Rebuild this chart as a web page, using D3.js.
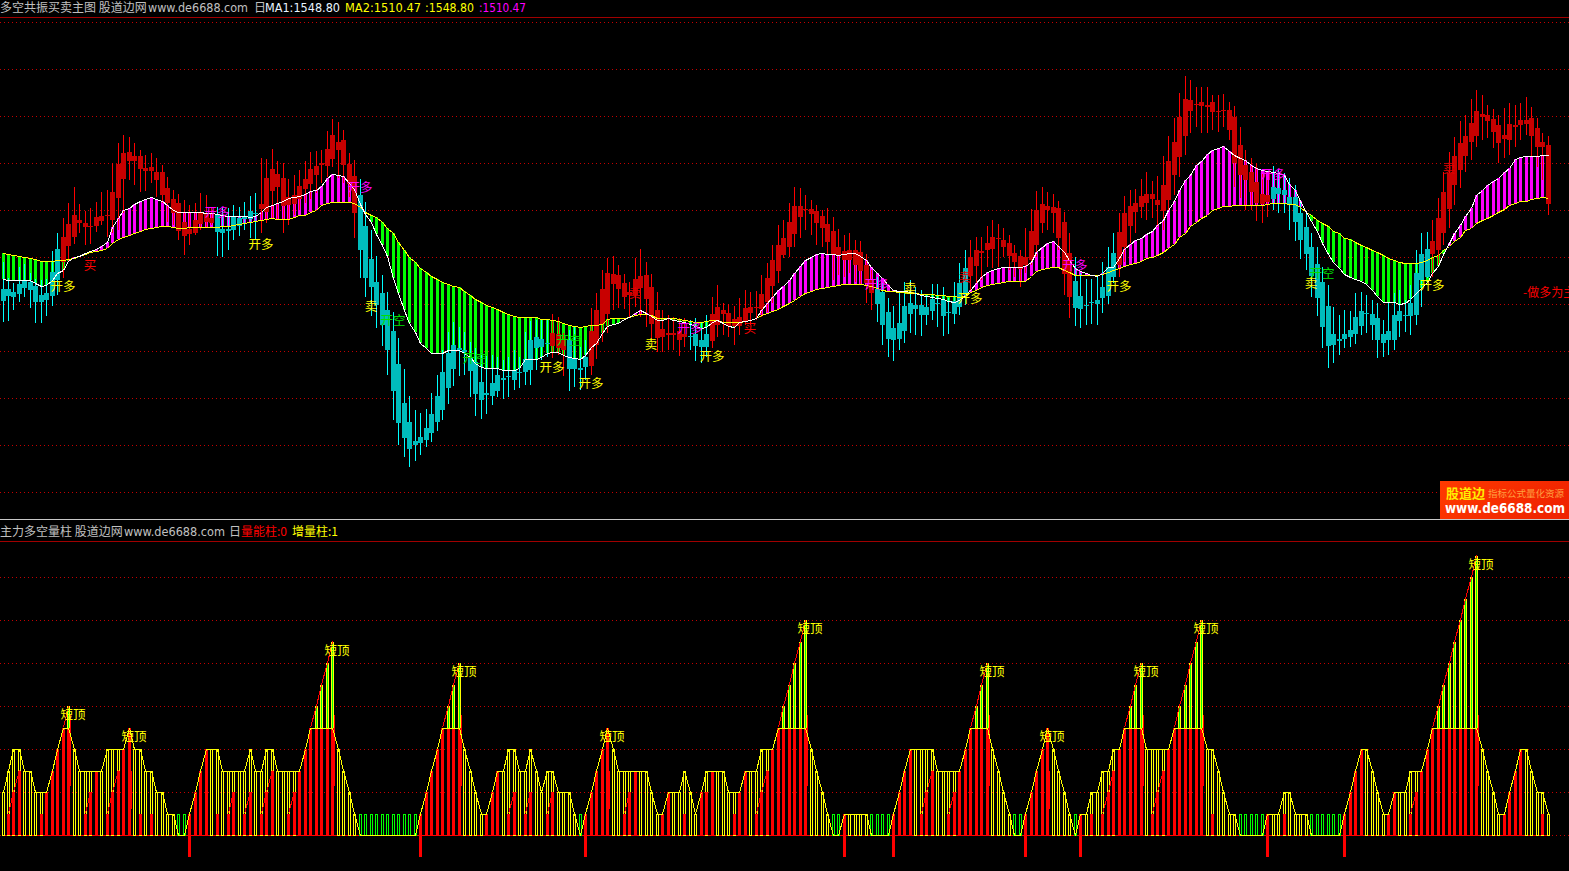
<!DOCTYPE html>
<html><head><meta charset="utf-8"><style>
html,body{margin:0;padding:0;background:#000;overflow:hidden}
svg{display:block}
text{font-family:"Noto Sans CJK SC","DejaVu Sans",sans-serif}
</style>
<script src="https://cdn.jsdelivr.net/npm/d3@7/dist/d3.min.js"></script></head><body><svg id="c" width="1569" height="871"></svg>
<script>
const high=[438,422,417,433,436,427,421,420,421,449,467,482,497,513,496,489,492,498,508,510,537,557,565,563,557,550,545,547,542,535,523,510,506,500,495,497,507,505,493,493,493,492,495,493,498,504,507,542,541,551,539,537,521,525,530,539,548,549,550,569,581,578,570,547,540,521,498,470,444,425,408,388,362,331,304,290,287,291,307,325,350,368,378,373,368,358,352,347,344,345,343,340,343,350,343,368,379,380,380,380,386,383,367,370,373,353,360,392,407,430,442,444,435,426,418,442,451,438,426,408,390,385,383,382,382,380,382,377,385,403,415,397,396,394,402,410,408,409,425,437,455,475,480,497,513,512,505,500,495,490,492,483,471,465,467,460,459,446,430,423,417,402,394,407,418,420,413,410,405,416,416,413,402,418,437,450,460,463,463,474,480,476,472,465,455,450,472,491,509,513,508,506,499,488,467,443,427,421,421,423,438,453,467,487,504,510,511,521,528,519,524,544,564,582,607,624,620,613,613,613,605,605,606,598,594,573,550,542,537,527,520,534,530,527,522,515,500,487,467,453,433,415,393,385,390,389,407,408,405,400,397,380,397,407,410,400,415,450,467,468,480,502,528,548,563,579,585,601,610,605,595,591,585,592,597,595,597,603,593,582,567,564];
const low=[378,379,390,398,403,392,377,377,384,394,405,422,438,456,467,455,456,468,475,463,467,470,487,520,515,508,509,517,503,497,478,475,460,445,455,465,470,472,475,444,443,450,460,464,470,462,460,467,477,482,481,467,475,485,490,497,501,507,517,523,533,522,517,503,462,422,403,384,372,354,325,280,255,243,233,239,245,253,258,269,280,296,314,324,325,303,284,281,286,295,303,301,303,310,312,315,315,330,340,343,342,345,324,309,313,310,320,325,341,358,367,390,392,391,382,393,383,373,360,348,348,350,350,344,353,350,339,337,343,352,363,365,363,355,365,375,375,380,383,388,397,417,442,443,453,462,470,465,455,453,445,420,425,423,427,418,415,397,390,378,355,343,339,350,357,367,365,364,375,380,373,364,366,376,385,395,410,417,420,433,432,433,443,430,423,413,427,435,443,467,470,467,450,405,382,374,372,375,376,375,387,396,417,423,438,457,467,482,480,482,473,470,490,505,523,545,567,573,567,567,570,568,573,560,513,502,490,490,479,477,483,490,487,487,470,459,441,430,403,384,352,332,337,345,352,353,356,365,367,360,342,343,345,350,363,368,365,375,393,422,423,433,455,472,495,512,528,540,553,560,562,552,537,542,545,553,560,565,543,533,520,485];
const bodyTop=[411,411,408,416,419,418,414,405,407,428,451,463,476,485,480,477,474,483,484,485,508,536,547,548,544,544,532,533,528,528,512,501,497,478,471,480,488,486,482,485,471,471,483,482,484,489,487,496,522,531,526,522,503,505,514,521,531,534,537,551,565,558,560,536,524,505,474,441,418,407,390,369,336,297,278,259,263,272,286,304,328,347,355,352,350,342,338,318,307,317,325,322,324,330,328,341,360,363,361,357,367,366,360,360,341,332,343,369,390,411,427,426,425,417,408,421,424,425,413,390,371,367,367,369,366,364,366,360,366,386,393,390,387,381,383,392,393,393,406,422,440,455,462,478,494,494,491,491,489,484,476,469,453,449,450,450,448,435,420,411,408,388,372,377,394,397,395,395,393,401,397,400,388,399,417,432,443,450,449,457,463,462,460,457,447,444,443,469,490,496,494,493,492,478,447,419,404,395,398,400,413,433,447,468,487,494,497,504,506,506,500,515,539,558,583,601,600,596,598,595,598,589,590,590,583,555,535,528,518,506,505,513,512,510,503,503,487,473,453,436,418,394,366,361,366,370,383,389,387,386,382,366,369,385,389,385,397,427,446,451,459,482,508,527,544,557,564,577,589,586,585,581,575,565,576,575,580,580,582,572,558,555];
const bodyBottom=[399,404,403,406,412,410,398,398,400,404,420,438,454,463,477,473,473,474,479,484,480,502,521,539,539,531,529,529,520,505,497,487,469,464,466,467,476,478,477,468,467,469,470,474,481,481,486,491,488,509,513,494,495,496,501,511,516,525,535,534,541,550,535,516,487,450,422,413,395,375,350,309,277,262,251,255,257,260,267,278,290,312,331,350,348,329,306,300,305,304,309,320,323,320,327,328,330,352,353,356,354,352,350,331,331,330,333,334,355,376,386,416,411,403,405,405,412,401,376,362,363,365,365,360,363,363,354,353,353,359,375,386,374,374,374,379,387,392,391,398,414,429,445,453,466,483,490,486,477,472,458,446,445,440,440,435,429,417,407,396,375,361,360,361,369,386,391,385,385,389,396,384,387,386,393,405,424,434,447,450,451,461,453,444,438,431,435,440,455,477,490,487,462,426,403,392,391,394,397,396,402,404,423,435,453,474,488,493,497,501,495,489,500,525,543,564,589,595,594,593,588,588,589,570,537,525,520,508,497,496,498,501,506,505,495,478,460,446,424,402,373,354,355,359,361,363,366,374,386,375,360,357,360,360,379,384,384,385,420,423,446,450,467,491,515,530,544,558,564,583,579,568,557,561,560,573,575,576,564,553,553,496];
const ma1=[421,420,420,420,420,420,417,414,415,420,427,430,439,443,444,447,449,451,454,458,473,482,490,492,496,499,501,503,501,499,495,490,488,488,488,488,488,487,487,486,485,484,484,484,484,483,484,488,493,495,497,499,502,503,504,506,509,510,514,522,526,525,524,517,511,496,486,478,466,455,444,422,407,390,377,368,357,352,347,347,347,350,350,350,347,343,337,333,332,332,332,330,330,330,332,341,341,341,343,347,348,348,345,343,342,341,345,353,357,367,374,376,377,381,383,387,390,387,384,380,380,382,380,379,378,376,374,372,373,378,380,377,374,373,378,379,380,382,390,397,403,410,414,420,427,434,440,443,446,447,446,446,445,446,447,447,444,440,433,427,422,415,410,409,409,408,407,405,404,403,402,401,399,398,400,405,410,417,423,428,430,432,433,433,433,433,434,438,448,453,457,459,454,448,440,432,429,427,425,424,427,433,433,442,451,456,460,462,466,469,475,480,490,499,510,520,525,535,539,546,550,552,554,549,545,542,540,535,532,530,529,528,527,525,516,510,499,488,479,469,457,446,438,432,426,423,421,419,416,410,404,398,398,398,396,397,401,407,412,418,427,434,446,457,467,475,484,492,505,510,515,519,522,528,532,541,543,544,544,544,545,545];
const ma2=[447,446,445,444,443,442,441,439,439,439,440,440,441,442,444,446,448,449,450,452,457,461,463,465,467,469,471,472,473,474,474,473,472,472,473,473,473,473,473,473,474,474,475,476,477,478,479,480,481,482,481,481,481,483,485,485,488,490,495,497,498,498,498,498,497,493,488,485,483,478,472,467,458,450,443,438,432,428,424,421,418,416,414,413,409,405,401,398,395,393,391,388,386,384,383,383,383,383,381,381,380,379,377,375,374,373,374,375,375,376,381,382,382,382,383,385,386,386,385,382,382,382,382,381,380,379,378,378,379,380,380,378,378,378,378,379,380,382,385,387,389,391,394,397,400,404,407,409,411,412,413,414,415,416,416,416,416,415,414,412,410,409,409,408,408,407,407,406,406,406,405,405,404,404,403,404,408,410,413,415,416,417,418,419,419,419,419,424,429,431,432,433,433,430,428,425,425,425,425,425,426,428,430,432,434,436,437,439,442,443,445,448,452,456,463,467,474,478,482,485,490,492,494,494,495,495,495,495,495,495,496,497,497,497,496,496,493,488,485,480,477,474,469,467,462,461,458,455,453,450,448,445,442,440,438,437,437,437,438,440,443,445,450,454,459,463,470,472,477,480,482,485,488,491,495,497,499,499,501,502,503,502];
const fallingRuns=[[0,10],[39,46],[65,99],[103,106],[125,128],[159,175],[195,202],[231,259]];
const volume=[2,3,4,4,3,3,2,2,2,3,4,5,6,4,3,3,3,3,3,4,4,4,4,5,4,4,3,3,2,2,1,1,0,0,1,2,3,4,4,4,3,3,3,3,3,4,3,3,4,4,3,3,3,3,3,4,5,6,7,8,9,4,3,2,1,0,0,0,0,0,0,0,0,0,0,0,1,2,3,4,5,6,7,8,4,3,2,1,1,2,3,3,4,4,3,3,4,3,2,3,3,2,2,2,1,0,1,2,3,4,5,4,3,3,3,3,3,3,2,1,1,2,2,2,3,2,1,2,3,3,3,3,2,2,2,3,3,3,4,4,4,5,6,7,8,9,10,4,3,2,1,0,0,1,1,1,1,1,0,0,0,0,1,2,3,4,4,4,4,4,3,3,3,3,3,4,5,6,7,8,4,3,2,1,0,0,1,2,3,4,5,4,3,2,1,0,1,1,2,2,3,3,4,4,5,6,7,8,4,4,4,4,4,5,6,7,8,9,10,4,4,3,2,1,1,0,0,0,0,0,1,1,1,2,2,1,1,1,0,0,0,0,0,0,1,2,3,4,4,3,2,1,1,2,2,2,3,3,3,4,5,6,7,8,9,10,11,12,13,4,3,2,1,1,2,3,4,4,3,2,2,1];
const energy=[0,1,2,3,0,0,0,1,2,3,4,5,5,0,0,1,2,3,0,1,2,3,4,5,0,1,0,1,0,0,0,0,0,0,1,2,3,4,0,1,0,1,2,0,1,2,0,1,2,3,0,0,1,2,3,4,5,5,5,5,5,0,0,0,0,0,0,0,0,0,0,0,0,0,0,0,1,2,3,4,5,5,5,5,0,0,0,0,1,2,3,0,1,2,0,1,2,0,0,1,2,0,0,0,0,0,1,2,3,4,5,0,0,1,2,3,0,0,0,0,1,2,0,0,1,0,0,2,2,3,0,0,0,1,2,3,0,1,2,3,4,5,5,5,5,5,5,0,0,0,0,0,0,1,0,0,0,0,0,0,0,0,1,2,3,4,0,1,2,3,0,0,1,2,3,4,5,5,5,5,0,0,0,0,0,0,1,2,3,4,5,0,0,0,0,0,1,0,1,0,1,2,3,4,5,5,5,5,0,1,2,3,4,5,5,5,5,5,5,0,1,0,0,0,0,0,0,0,0,0,1,0,0,1,0,0,0,0,0,0,0,0,0,0,1,2,3,4,0,0,0,0,1,2,0,0,1,2,3,4,5,5,5,5,5,5,5,5,5,0,0,0,0,1,2,3,4,0,0,0,1,0];
const downSpikes=[34,76,106,153,162,186,196,230,244];
const shortTops=[12,23,60,83,110,146,179,190,207,218,268];
const priceGrid=[678,631,584,537,490,443,396,349,302,255,208];
const volGrid=[0,2,4,6,8,10,12];
const openLong=[[11,414],[47,456],[100,333],[107,317],[129,344],[176,402],[203,414],[260,415]];
const holdLong=[[39,488],[65,513],[125,372],[159,416],[195,435],[231,526]];
const openShort=[[71,380],[86,342],[103,360],[240,427]];
const sellYellow=[[67,394],[118,356],[165,412],[238,417]];
const buyRed=[[16,435],[136,372]];
const sellRed=[[115,407],[175,423],[263,532]];
const advice=[[277,408]];

const n=high.length,svg=d3.select('#c');
const x=d3.scalePoint(d3.range(n),[2.5,1547.5]);
const X=i=>Math.round(x(i));
const yP=d3.scaleLinear([700,180],[0,520]);
const yV=d3.scaleLinear([0,13],[835,555.5]);
const isFalling=i=>fallingRuns.some(r=>i>=r[0]&&i<=r[1]);
const idx=d3.range(n);
const crisp=g=>g.attr('shape-rendering','crispEdges');

svg.append('rect').attr('width',1569).attr('height',871).attr('fill','#000');
const grid=svg.append('g').call(crisp).attr('stroke','#c40000').attr('stroke-dasharray','1 3');
grid.selectAll('.p').data(priceGrid).join('line').attr('x1',0).attr('x2',1569).attr('y1',d=>Math.round(yP(d))+.5).attr('y2',d=>Math.round(yP(d))+.5);
grid.selectAll('.v').data(volGrid).join('line').attr('x1',0).attr('x2',1569).attr('y1',d=>Math.round(yV(d))+.5).attr('y2',d=>Math.round(yV(d))+.5);
const rule=(y,c)=>svg.append('line').call(crisp).attr('x1',0).attr('x2',1569).attr('y1',y+.5).attr('y2',y+.5).attr('stroke',c);
rule(17,'#a00000');rule(541,'#a00000');rule(519,'#c8c8c8');

svg.append('g').call(crisp).selectAll('rect').data(idx).join('rect')
 .attr('x',i=>X(i)-1).attr('width',3)
 .attr('y',i=>yP(Math.max(ma1[i],ma2[i]))).attr('height',i=>Math.abs(yP(ma1[i])-yP(ma2[i])))
 .attr('fill',i=>ma1[i]>ma2[i]?'#ff00ff':'#00ff00');
const cg=svg.append('g').call(crisp);
cg.selectAll('.w').data(idx).join('rect').attr('x',X).attr('width',1)
 .attr('y',i=>yP(high[i])).attr('height',i=>yP(low[i])-yP(high[i]))
 .attr('fill',i=>isFalling(i)?'#00ffff':'#ff0000');
cg.selectAll('.b').data(idx).join('rect').attr('class','b').attr('x',i=>X(i)-2).attr('width',5)
 .attr('y',i=>yP(bodyTop[i])).attr('height',i=>Math.max(1,yP(bodyBottom[i])-yP(bodyTop[i])))
 .attr('fill',i=>isFalling(i)?'#00bcbc':'#c80000');
const lineP=a=>d3.line().x((d,i)=>X(i)+.5).y(d=>yP(d)+.5)(a);
svg.append('path').call(crisp).attr('d',lineP(ma2)).attr('fill','none').attr('stroke','#ffff00').attr('stroke-width',1);
svg.append('path').call(crisp).attr('d',lineP(ma1)).attr('fill','none').attr('stroke','#ffffff').attr('stroke-width',1);

const sig=(arr,t,c)=>svg.append('g').selectAll('text').data(arr).join('text')
 .attr('x',d=>X(d[0])).attr('y',d=>yP(d[1])+5).attr('text-anchor','middle')
 .attr('font-size',12.5).attr('fill',c).text(t);
sig(openLong,'开多','#ffff00');sig(holdLong,'开多','#ff00ff');sig(openShort,'开空','#00e000');
sig(sellYellow,'卖','#ffff00');sig(buyRed,'买','#ff0000');sig(sellRed,'卖','#e00000');
svg.append('g').selectAll('text').data(advice).join('text').attr('x',d=>X(d[0])-3).attr('y',d=>yP(d[1])+5)
 .attr('font-size',12).attr('fill','#ff0000').text('-做多为主');

svg.append('line').call(crisp).attr('x1',X(0)).attr('x2',X(n-1)).attr('y1',yV(0)+.5).attr('y2',yV(0)+.5).attr('stroke','#ff0000');
const vg=svg.append('g').call(crisp);
const outlineBase=i=>energy[i]>=5?5:0;
const hasOutline=i=>volume[i]===0||volume[i]>energy[i];
vg.selectAll('.o').data(idx.filter(hasOutline)).join('rect').attr('class','o')
 .attr('x',i=>X(i)-.5).attr('width',2)
 .attr('y',i=>Math.round(yV(volume[i]||1))+.5)
 .attr('height',i=>Math.round(yV(outlineBase(i)))-Math.round(yV(volume[i]||1)))
 .attr('fill',i=>energy[i]>=5?'#00ff00':'none')
 .attr('stroke',i=>volume[i]===0?'#00ff00':'#ffff00');
vg.selectAll('.r').data(idx.filter(i=>energy[i]>0)).join('rect').attr('class','r')
 .attr('x',i=>X(i)-1).attr('width',3)
 .attr('y',i=>Math.round(yV(energy[i]))).attr('height',i=>Math.round(yV(0))-Math.round(yV(energy[i])))
 .attr('fill','#ff0000');
vg.selectAll('.s').data(downSpikes).join('rect').attr('class','s')
 .attr('x',i=>X(i)-1).attr('width',3)
 .attr('y',yV(0)).attr('height',yV(-1)-yV(0)).attr('fill','#ff0000');
const tails=idx.filter(i=>energy[i]===5&&energy[i+1]===0);
vg.selectAll('.t').data(tails).join('line').attr('class','t').attr('x1',i=>X(i)+2.5).attr('x2',i=>X(i)+2.5)
 .attr('y1',i=>yV(volume[i]>5?5.6:3)).attr('y2',i=>yV(volume[i]>5?2.3:1.2)).attr('stroke','#ff0000');
svg.append('path').call(crisp).attr('fill','none').attr('stroke','#ffff00').attr('stroke-width',1)
 .attr('d',d3.line().x((d,i)=>X(i)+.5).y(d=>yV(Math.min(d,5))+.5)(volume));
const rg=svg.append('g').call(crisp);
rg.selectAll('.rise').data(idx.filter(i=>i<n-1&&volume[i+1]>volume[i]&&volume[i]>=5)).join('line')
 .attr('x1',i=>X(i)+.5).attr('x2',i=>X(i+1)+.5).attr('y1',i=>yV(volume[i])).attr('y2',i=>yV(volume[i+1])).attr('stroke','#ff0000');
rg.selectAll('.rise2').data(idx.filter(i=>i<n-1&&energy[i+1]>energy[i]&&energy[i]>0&&volume[i+1]>energy[i+1])).join('line')
 .attr('x1',i=>X(i)+.5).attr('x2',i=>X(i+1)+.5).attr('y1',i=>yV(energy[i])).attr('y2',i=>yV(energy[i+1])).attr('stroke','#ff0000');
svg.append('g').selectAll('text').data(shortTops).join('text')
 .attr('x',i=>X(i)+5).attr('y',i=>yV(volume[i])+13).attr('text-anchor','middle')
 .attr('font-size',12.5).attr('fill','#ffff00').text('短顶');

const hdr=(x0,y,t,c,w)=>{const s=svg.append('text').attr('x',x0).attr('y',y).attr('fill',c).attr('font-size',12).text(t);
 if(w) s.style('font-family','"DejaVu Sans"').attr('textLength',w).attr('lengthAdjust','spacingAndGlyphs');return s;};
hdr(0,12,'多空共振买卖主图 股道边网','#c0c0c0');
hdr(148,12,'www.de6688.com','#c0c0c0',100);
hdr(254,12,'日','#c0c0c0');
hdr(265,12,'MA1:1548.80','#e8f4ff',75);
hdr(345,12,'MA2:1510.47','#ffff00',76);
hdr(425,12,':1548.80','#ffff00',49);
hdr(479,12,':1510.47','#ff00ff',47);
hdr(0,536,'主力多空量柱 股道边网','#c0c0c0');
hdr(124,536,'www.de6688.com','#c0c0c0',101);
hdr(229,536,'日','#c0c0c0');
hdr(241,536,'量能柱:0','#ff0000');
hdr(292,536,'增量柱:1','#ffff00');

const defs=svg.append('defs');
const lg=defs.append('linearGradient').attr('id','lg').attr('x1','0').attr('x2','1').attr('y1','0').attr('y2','0.3');
lg.append('stop').attr('offset','0').attr('stop-color','#ff3a00');
lg.append('stop').attr('offset','1').attr('stop-color','#f02400');
svg.append('rect').attr('x',1440).attr('y',481).attr('width',129).attr('height',38).attr('fill','url(#lg)');
svg.append('text').attr('x',1446).attr('y',498).attr('fill','#ffee00').attr('font-size',13).attr('font-weight','bold').text('股道边');
svg.append('text').attr('x',1488).attr('y',497).attr('fill','#ffa040').attr('font-size',9.5).text('指标公式量化资源');
svg.append('text').attr('x',1445).attr('y',513).attr('fill','#ffffff').attr('font-size',14.5).attr('font-weight','bold').style('font-family','"DejaVu Sans"').attr('textLength',120).attr('lengthAdjust','spacingAndGlyphs').text('www.de6688.com');
</script></body></html>
